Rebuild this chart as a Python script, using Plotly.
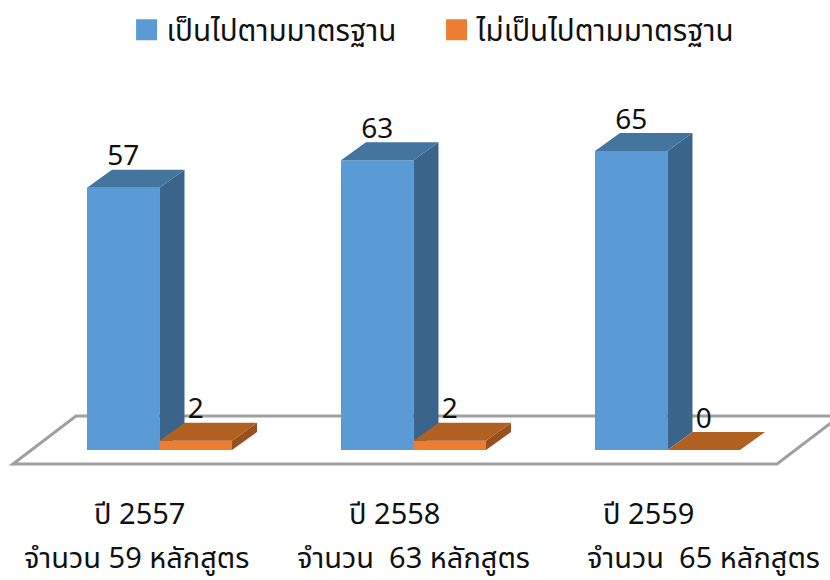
import plotly.graph_objects as go

groups = [0, 1, 2]
series_names = ["เป็นไปตามมาตรฐาน", "ไม่เป็นไปตามมาตรฐาน"]
conform = [57, 63, 65]
nonconform = [2, 2, 0]
year_labels = ["ปี 2557", "ปี 2558", "ปี 2559"]
count_labels = ["จำนวน 59 หลักสูตร", "จำนวน  63 หลักสูตร", "จำนวน  65 หลักสูตร"]

W, H = 830, 580
PX_X, PX_Y = 254.0, 4.6
X0, Y0 = 159.5, 450.0
FONT = "Noto Sans Thai, Open Sans, Noto Sans, sans-serif"
BAR_W = 72.5 / PX_X
DX, DY = 25 / PX_X, 18 / PX_Y
XR = [-X0 / PX_X, (W - X0) / PX_X]
YR = [(Y0 - H) / PX_Y, Y0 / PX_Y]


def faces(values, left):
    top_x, top_y, side_x, side_y = [], [], [], []
    for g, v in zip(groups, values):
        a = g + left
        b = a + BAR_W
        top_x += [a, b, b + DX, a + DX, a, None]
        top_y += [v, v, v + DY, v + DY, v, None]
        side_x += [b, b + DX, b + DX, b, b, None]
        side_y += [0, DY, v + DY, v, 0, None]
    return top_x, top_y, side_x, side_y


def poly(x, y, color, over=False):
    return go.Scatter(x=x, y=y, mode="lines", fill="toself", fillcolor=color,
                      line=dict(width=0, color=color), hoverinfo="skip", showlegend=False,
                      xaxis="x2" if over else "x", yaxis="y2" if over else "y")


fig = go.Figure()
fig.add_bar(x=[g - BAR_W / 2 for g in groups], y=conform, width=BAR_W, marker=dict(color="#5B9BD5", line_width=0),
            showlegend=False, legendgroup="a")
tx, ty, sx, sy = faces(conform, -BAR_W)
fig.add_trace(poly(sx, sy, "#3A6489"))
fig.add_trace(poly(tx, ty, "#44759F"))

# Second series sits on an overlaying subplot so it hides the blue side face.
fig.add_bar(x=[g + BAR_W / 2 for g in groups], y=nonconform, width=BAR_W, marker=dict(color="#ED7D31", line_width=0),
            showlegend=False, legendgroup="b", xaxis="x2", yaxis="y2")
tx, ty, sx, sy = faces(nonconform, 0)
fig.add_trace(poly(sx, sy, "#985020", True))
fig.add_trace(poly(tx, ty, "#B25F22", True))

for vals, left in ((conform, -BAR_W), (nonconform, 0)):
    fig.add_trace(go.Scatter(
        x=[g + left + BAR_W / 2 for g in groups],
        y=[v + DY - 2.5 / PX_Y for v in vals],
        mode="text", text=[str(v) for v in vals], textposition="top center",
        textfont=dict(size=28, color="#111111", family=FONT), hoverinfo="skip", showlegend=False,
        cliponaxis=False, xaxis="x2", yaxis="y2"))

for name, color, grp in zip(series_names, ["#5B9BD5", "#ED7D31"], ["a", "b"]):
    fig.add_trace(go.Scatter(x=[None], y=[None], mode="markers", name=name, legendgroup=grp,
                             marker=dict(symbol="square", size=16, color=color, line=dict(color=color, width=5))))

fx = lambda p: (p - X0) / PX_X
fy = lambda p: (Y0 - p) / PX_Y
floor = "M{},{} L{},{} L{},{} L{},{} Z".format(fx(13), fy(464), fx(76), fy(416), fx(840), fy(416), fx(777), fy(464))
fig.add_shape(type="path", path=floor, xref="x", yref="y", layer="below",
              line=dict(color="#A0A0A0", width=3), fillcolor="white")

year_px = [139, 394, 648]
count_px = [136, 413, 703]
for lab, p in zip(year_labels, year_px):
    fig.add_annotation(x=fx(p), y=fy(515), text=lab, showarrow=False, xanchor="center", yanchor="middle",
                       font=dict(size=29, color="#111111", family=FONT))
for lab, p in zip(count_labels, count_px):
    fig.add_annotation(x=fx(p), y=fy(559), text=lab.replace("  ", "&nbsp; "), showarrow=False, xanchor="center", yanchor="middle",
                       font=dict(size=29, color="#111111", family=FONT))

fig.update_layout(
    width=W, height=H, margin=dict(l=0, r=0, t=0, b=0),
    paper_bgcolor="white", plot_bgcolor="white", barmode="overlay",
    xaxis=dict(range=XR, visible=False, fixedrange=True),
    yaxis=dict(range=YR, visible=False, fixedrange=True),
    xaxis2=dict(range=XR, visible=False, fixedrange=True, overlaying="x"),
    yaxis2=dict(range=YR, visible=False, fixedrange=True, overlaying="y"),
    legend=dict(orientation="h", x=0.526, xanchor="center", y=0.993, yanchor="top",
                font=dict(size=29.6, color="#111111", family=FONT), bgcolor="rgba(0,0,0,0)",
                entrywidth=265, entrywidthmode="pixels",
                itemclick=False, itemdoubleclick=False),
)
fig.write_html("out.html", post_script="document.body.style.margin='0';", config={"displayModeBar": False})
